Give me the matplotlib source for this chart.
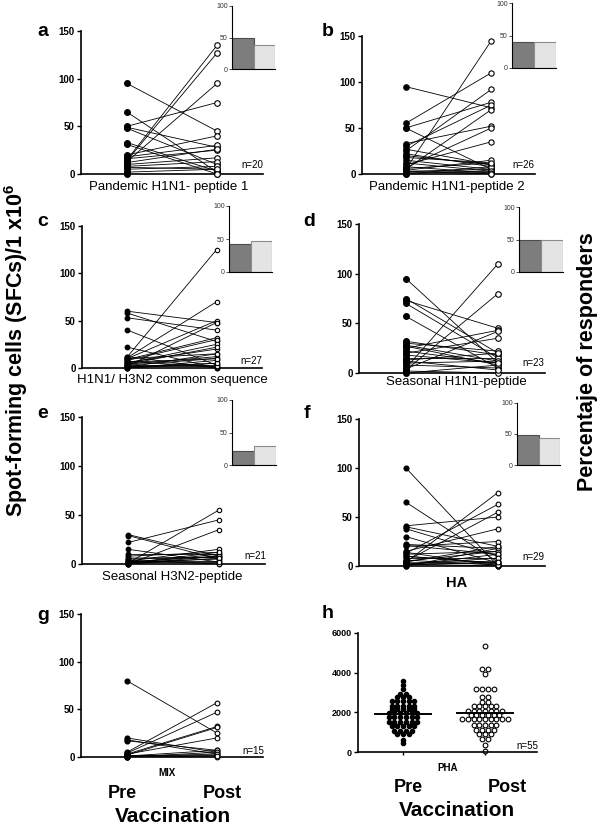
import numpy as np
import matplotlib
matplotlib.use('Agg')
import matplotlib.pyplot as plt

plt.rcParams['font.family'] = ['Liberation Sans', 'DejaVu Sans']
plt.rcParams['mathtext.fontset'] = 'custom'
plt.rcParams['mathtext.bf'] = 'Liberation Sans:bold'
plt.rcParams['mathtext.rm'] = 'Liberation Sans'

#------------------------------------------------------------------------------
# data (SFCs / 1x10^6, pre vs post vaccination)

pre_a = [95, 65, 50, 49, 48, 33, 31, 20, 18, 16, 15, 14, 13, 12, 10, 8, 7, 5, 2, 0]
post_a = [45, 2, 75, 28, 10, 3, 0, 40, 30, 25, 135, 127, 95, 26, 17, 13, 5, 8, 5, 0]

pre_b = [95, 55, 50, 50, 33, 30, 27, 25, 22, 20, 18, 15, 10, 7, 5, 5, 4, 3, 2, 1, 0, 0, 6, 12, 8, 3]
post_b = [72, 110, 78, 5, 52, 75, 10, 92, 8, 10, 12, 5, 35, 50, 145, 70, 15, 5, 3, 2, 0, 8, 12, 3, 1, 0]

pre_c = [60, 58, 53, 40, 22, 12, 11, 10, 10, 9, 8, 6, 5, 4, 3, 2, 1, 0, 0, 12, 7, 3, 2, 1, 0, 6, 4]
post_c = [48, 28, 40, 3, 0, 125, 70, 50, 15, 32, 30, 20, 25, 12, 10, 48, 5, 8, 0, 0, 1, 3, 2, 15, 5, 10, 22]

pre_d = [95, 75, 73, 70, 57, 32, 30, 28, 27, 25, 22, 20, 15, 13, 10, 8, 5, 3, 2, 0, 4, 18, 12]
post_d = [10, 20, 45, 15, 5, 18, 22, 12, 8, 43, 10, 35, 15, 20, 12, 5, 110, 80, 0, 8, 42, 10, 3]

pre_e = [30, 29, 22, 15, 10, 8, 5, 3, 2, 1, 0, 0, 1, 2, 4, 6, 0, 3, 1, 0, 2]
post_e = [8, 5, 45, 2, 10, 12, 7, 15, 8, 55, 35, 0, 10, 5, 0, 7, 8, 3, 12, 6, 2]

pre_f = [100, 65, 41, 40, 38, 30, 22, 21, 20, 15, 13, 12, 10, 8, 5, 4, 3, 2, 0, 5, 3, 1, 2, 10, 0, 14, 4, 6, 1]
post_f = [0, 4, 50, 20, 10, 3, 18, 12, 25, 38, 63, 15, 2, 8, 55, 75, 5, 0, 0, 15, 2, 12, 8, 3, 18, 0, 20, 1, 4]

pre_g = [80, 20, 18, 17, 5, 4, 3, 2, 3, 1, 0, 2, 1, 0, 0]
post_g = [25, 5, 3, 7, 57, 47, 32, 31, 20, 7, 5, 2, 3, 0, 1]

# PHA column scatter (n=55 each), rows of equal values as in the picture
pha_pre = [3600, 3400, 3200, 2900, 2900, 2750, 2750, 2750,
           2560, 2560, 2560, 2560, 2560, 2340, 2340, 2340, 2340, 2340,
           2170, 2170, 2170, 2170, 2170, 1980, 1980, 1980, 1980, 1980, 1980,
           1760, 1760, 1760, 1760, 1760, 1760, 1510, 1510, 1510, 1510, 1510, 1510,
           1330, 1330, 1330, 1330, 1330, 1075, 1075, 1075, 1075,
           900, 900, 900, 600, 450]
pha_post = [5340, 4180, 4180, 3915, 3180, 3180, 3180, 3180, 2790, 2790,
            2540, 2540, 2320, 2320, 2320, 2320, 2320,
            2080, 2080, 2080, 2080, 2080, 2080, 2080,
            1860, 1860, 1860, 1860, 1860, 1860,
            1660, 1660, 1660, 1660, 1660, 1660, 1660, 1660, 1660,
            1360, 1360, 1360, 1360, 1360, 1110, 1110, 1110, 1110,
            890, 890, 890, 640, 640, 350, 50]

# percentage of responders (insets): pre, post
resp_a = [49, 38]
resp_b = [40, 40]
resp_c = [43, 47]
resp_d = [50, 50]
resp_e = [22, 30]
resp_f = [49, 43]

#------------------------------------------------------------------------------
W, H = 600, 825
fig = plt.figure(figsize=(6, 8.25), dpi=100)


def rect(l, t, r, b):
    return [l / W, 1 - b / H, (r - l) / W, (b - t) / H]


def ftxt(x, y, s, **kw):
    fig.text(x / W, 1 - y / H, s, ha='center', va='center', **kw)


def style(ax, lw=1.2):
    for s in ['top', 'right']:
        ax.spines[s].set_visible(False)
    ax.spines['left'].set_linewidth(lw)
    ax.spines['bottom'].set_linewidth(lw)


def pair_panel(box, pre, post, ms):
    ax = fig.add_axes(rect(*box))
    for a, b in zip(pre, post):
        ax.plot([0, 1], [a, b], color='black', lw=0.6, zorder=2)
    ax.plot(np.zeros(len(pre)), pre, 'o', ms=ms, mfc='black', mec='black',
            ls='none', clip_on=False, zorder=3)
    ax.plot(np.ones(len(post)), post, 'o', ms=ms, mfc='white', mec='black',
            mew=0.8, ls='none', clip_on=False, zorder=3)
    ax.set_xlim(-0.51, 1.51)
    ax.set_ylim(0, 150)
    ax.set_yticks([0, 50, 100, 150])
    ax.set_xticks([])
    ax.tick_params(axis='y', length=3, width=1, pad=1.5, labelsize=7)
    for t in ax.get_yticklabels():
        t.set_fontweight('bold')
    style(ax)
    return ax


def inset(box, vals):
    ax = fig.add_axes(rect(*box))
    ax.bar([0, 1], vals, width=1, color=['#7d7d7d', '#e4e4e4'],
           edgecolor=['#4d4d4d', '#8c8c8c'], lw=0.8)
    ax.set_xlim(-0.5, 1.5)
    ax.set_ylim(0, 100)
    ax.set_yticks([0, 50, 100])
    ax.set_xticks([])
    ax.tick_params(axis='y', length=2, width=0.6, pad=1, labelsize=5,
                   colors='#333333')
    style(ax, lw=0.8)
    ax.patch.set_alpha(0)


#------------------------------------------------------------------------------
pair_panel((81, 31, 263, 174), pre_a, post_a, 4)
pair_panel((362, 36, 535, 174), pre_b, post_b, 3.8)
pair_panel((82, 226, 262, 368), pre_c, post_c, 3.2)
pair_panel((359, 224, 545, 373), pre_d, post_d, 4)
pair_panel((82, 417, 265, 564), pre_e, post_e, 3.2)
pair_panel((359, 419, 545, 566), pre_f, post_f, 3.4)
pair_panel((81, 614, 263, 757), pre_g, post_g, 3.4)

inset((232, 6, 275, 69), resp_a)
inset((512, 3, 556, 68), resp_b)
inset((229, 206, 272, 272), resp_c)
inset((519, 207, 563, 272), resp_d)
inset((232, 400, 276, 465), resp_e)
inset((517, 403, 560, 465), resp_f)

# panel h: column scatter, points of equal value share a row
axh = fig.add_axes(rect(358, 633, 537, 752))


def columns(vals, center, step=0.07):
    vals = np.asarray(vals, float)
    xs = np.zeros(len(vals))
    for v in np.unique(vals):
        idx = np.where(vals == v)[0]
        k = len(idx)
        xs[idx] = center + (np.arange(k) - (k - 1) / 2) * step
    return xs


xp = columns(pha_pre, 0)
xq = columns(pha_post, 1)
axh.plot(xp, pha_pre, 'o', ms=3.0, mfc='black', mec='black', ls='none', clip_on=False)
axh.plot(xq, pha_post, 'o', ms=3.4, mfc='white', mec='black', mew=0.8, ls='none', clip_on=False)
axh.plot([-0.34, 0.34], [np.mean(pha_pre)] * 2, color='black', lw=1.4)
axh.plot([0.66, 1.34], [np.mean(pha_post)] * 2, color='black', lw=1.4)
axh.set_xlim(-0.549, 1.634)
axh.set_ylim(0, 6000)
axh.set_yticks([0, 2000, 4000, 6000])
axh.set_xticks([0, 1])
axh.set_xticklabels([])
axh.tick_params(axis='y', length=3, width=1, pad=1.5, labelsize=6.5)
axh.tick_params(axis='x', length=2, width=1)
for t in axh.get_yticklabels():
    t.set_fontweight('bold')
style(axh)

#------------------------------------------------------------------------------
# texts
ftxt(169, 187, 'Pandemic H1N1- peptide 1', fontsize=9.5)
ftxt(447, 187, 'Pandemic H1N1-peptide 2', fontsize=9.5)
ftxt(172, 380, 'H1N1/ H3N2 common sequence', fontsize=9.5)
ftxt(456, 382, 'Seasonal H1N1-peptide', fontsize=9.5)
ftxt(172, 577, 'Seasonal H3N2-peptide', fontsize=9.5)
ftxt(457, 583, 'HA', fontsize=10.5, fontweight='bold')

ftxt(167, 773, 'MIX', fontsize=7, fontweight='bold')
ftxt(122, 793, 'Pre', fontsize=13, fontweight='bold')
ftxt(222, 793, 'Post', fontsize=13, fontweight='bold')
ftxt(173, 817, 'Vaccination', fontsize=15, fontweight='bold')

ftxt(448, 768, 'PHA', fontsize=7, fontweight='bold')
ftxt(408, 787, 'Pre', fontsize=13, fontweight='bold')
ftxt(507, 787, 'Post', fontsize=13, fontweight='bold')
ftxt(457, 810, 'Vaccination', fontsize=15, fontweight='bold')

for x, y, s in [(43, 32, 'a'), (328, 32, 'b'), (43, 222, 'c'), (309, 221, 'd'),
                (43, 413, 'e'), (307, 413, 'f'), (43, 615, 'g'), (328, 613, 'h')]:
    ftxt(x, y, s, fontsize=14, fontweight='bold')

for x, y, s in [(252, 165, 'n=20'), (523, 165, 'n=26'), (251, 361, 'n=27'),
                (533, 363, 'n=23'), (255, 556, 'n=21'), (533, 557, 'n=29'),
                (253, 751, 'n=15'), (527, 746, 'n=55')]:
    ftxt(x, y, s, fontsize=7)

ftxt(16, 350, r'Spot-forming cells (SFCs)/1 x10$^\mathbf{6}$', fontsize=15.5,
     fontweight='bold', rotation=90)
ftxt(587, 362, 'Percentaje of responders', fontsize=15.5, fontweight='bold',
     rotation=90)

fig.savefig('out.png', dpi=100)
